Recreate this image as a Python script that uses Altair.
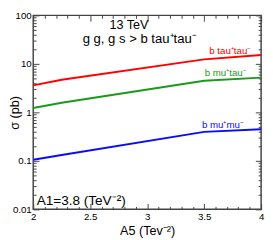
import altair as alt
import pandas as pd

# ---- data ----
a5 = [2.0, 2.25, 3.5, 4.0]
sigma_btautau = [3.6, 4.7, 12.4, 15.3]
sigma_bmutau = [1.23, 1.58, 4.5, 5.2]
sigma_bmumu = [0.105, 0.132, 0.396, 0.447]

series_names = ["b tau⁺tau⁻", "b mu⁺tau⁻", "b mu⁺mu⁻"]
series_colors = ["#ff0000", "#1a9a1a", "#0a0aff"]
label_x = [3.905, 3.865, 3.84]
label_y = [16.0, 5.64, 0.482]

x_ticks = [2.0, 2.1, 2.2, 2.3, 2.4, 2.5, 2.6, 2.7, 2.8, 2.9, 3.0,
           3.1, 3.2, 3.3, 3.4, 3.5, 3.6, 3.7, 3.8, 3.9, 4.0]
y_ticks = [0.01, 0.02, 0.03, 0.04, 0.05, 0.06, 0.07, 0.08, 0.09,
           0.1, 0.2, 0.3, 0.4, 0.5, 0.6, 0.7, 0.8, 0.9,
           1, 2, 3, 4, 5, 6, 7, 8, 9,
           10, 20, 30, 40, 50, 60, 70, 80, 90, 100]

annot_text = ["13 TeV", "g g, g s > b tau⁺tau⁻", "A1=3.8 (TeV⁻²)"]
annot_x = [2.84, 2.93, 2.03]
annot_y = [52.0, 27.0, 0.0125]
annot_align = ["center", "center", "left"]
annot_size = [13, 13.5, 14]

FONT = "Liberation Sans"
FRAME = "#444444"

rows = []
for name, vals in zip(series_names, [sigma_btautau, sigma_bmutau, sigma_bmumu]):
    for xv, yv in zip(a5, vals):
        rows.append({"series": name, "a5": xv, "sigma": yv})
lines_df = pd.DataFrame(rows)
labels_df = pd.DataFrame({"series": series_names, "a5": label_x, "sigma": label_y})

x_major = "(round(datum.value*10) % 5 == 0)"
y_major = "(abs(log(datum.value)/LN10 - round(log(datum.value)/LN10)) < 0.01)"

xscale = alt.Scale(domain=[2, 4], nice=False, zero=False)
yscale = alt.Scale(type="log", domain=[0.01, 100], nice=False)
cscale = alt.Scale(domain=series_names, range=series_colors)

x_bottom = alt.Axis(orient="bottom", values=x_ticks, domain=False, grid=False,
                    tickSize={"expr": f"{x_major} ? -6 : -3"}, tickColor=FRAME,
                    labelExpr=f"{x_major} ? format(datum.value, '~g') : ''",
                    labelPadding=8, labelFontSize=10, labelFont=FONT, labelColor="black",
                    labelOverlap=False, labelFlush=False,
                    title="A5 (Tev⁻²)", titleFont=FONT, titleFontSize=13,
                    titleFontWeight="normal", titleColor="black", titlePadding=1)
y_left = alt.Axis(orient="left", values=y_ticks, domain=False, grid=False,
                  tickSize={"expr": f"{y_major} ? -6 : -3"}, tickColor=FRAME,
                  labelExpr=f"{y_major} ? format(datum.value, '~g') : ''",
                  labelPadding=8, labelFontSize=10, labelFont=FONT, labelColor="black",
                  labelOverlap=False, labelFlush=False,
                  title="σ (pb)", titleFont=FONT, titleFontSize=13,
                  titleFontWeight="normal", titleColor="black",
                  titleX=-25, titleBaseline="top", titleAngle=270)
x_top = alt.Axis(orient="top", values=x_ticks, domain=False, grid=False, labels=False,
                 tickSize={"expr": f"{x_major} ? -6 : -3"}, tickColor=FRAME, title=None)
y_right = alt.Axis(orient="right", values=y_ticks, domain=False, grid=False, labels=False,
                   tickSize={"expr": f"{y_major} ? -6 : -3"}, tickColor=FRAME, title=None)

lines = alt.Chart(lines_df).mark_line(strokeWidth=2).encode(
    x=alt.X("a5:Q", scale=xscale, axis=x_bottom),
    y=alt.Y("sigma:Q", scale=yscale, axis=y_left),
    color=alt.Color("series:N", scale=cscale, legend=None),
    detail="series:N",
)

frame_axes = alt.Chart(lines_df).mark_line(opacity=0).encode(
    x=alt.X("a5:Q", scale=xscale, axis=x_top),
    y=alt.Y("sigma:Q", scale=yscale, axis=y_right),
    detail="series:N",
)

line_labels = alt.Chart(labels_df).mark_text(
    align="right", baseline="alphabetic", fontSize=10, font=FONT
).encode(
    x=alt.X("a5:Q", scale=xscale, axis=None),
    y=alt.Y("sigma:Q", scale=yscale, axis=None),
    text="series:N",
    color=alt.Color("series:N", scale=cscale, legend=None),
)

annot_df = pd.DataFrame({"t": annot_text, "a5": annot_x, "sigma": annot_y,
                         "al": annot_align, "fs": annot_size})
annot_layers = []
for al in ["center", "left"]:
    annot_layers.append(
        alt.Chart(annot_df).transform_filter(alt.datum.al == al).mark_text(
            align=al, baseline="alphabetic", font=FONT, color="black"
        ).encode(
            x=alt.X("a5:Q", scale=xscale, axis=None),
            y=alt.Y("sigma:Q", scale=yscale, axis=None),
            text="t:N",
            size=alt.Size("fs:Q", scale=None, legend=None),
        )
    )

chart = alt.layer(lines, frame_axes, line_labels, *annot_layers).resolve_axis(
    x="independent", y="independent"
).properties(
    width=235, height=200, autosize="none",
    padding={"left": 26, "top": 4, "right": 4, "bottom": 28},
).configure_view(stroke=FRAME, strokeWidth=1.5)

chart.save("out.html", embed_options={"renderer": "svg", "actions": False})
